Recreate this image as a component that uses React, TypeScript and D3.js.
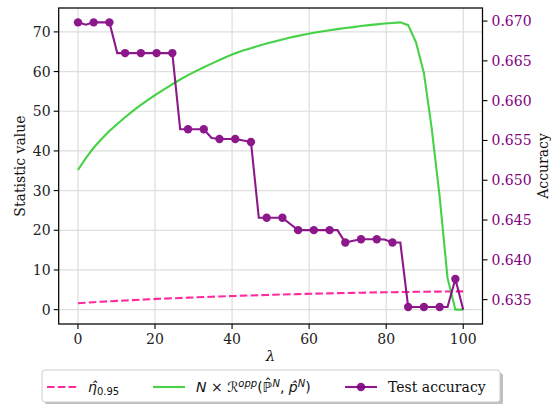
import React, { useRef, useEffect } from 'react';
import * as d3 from 'd3';

// lambda grid (50 points from 0 to 100)
const lambdas = [0, 2.04, 4.08, 6.12, 8.16, 10.2, 12.24, 14.29, 16.33, 18.37, 20.41, 22.45, 24.49, 26.53, 28.57, 30.61, 32.65, 34.69, 36.73, 38.78, 40.82, 42.86, 44.9, 46.94, 48.98, 51.02, 53.06, 55.1, 57.14, 59.18, 61.22, 63.27, 65.31, 67.35, 69.39, 71.43, 73.47, 75.51, 77.55, 79.59, 81.63, 83.67, 85.71, 87.76, 89.8, 91.84, 93.88, 95.92, 97.96, 100];

const etaHat = [1.6, 1.75, 1.88, 2.0, 2.1, 2.2, 2.3, 2.4, 2.5, 2.6, 2.7, 2.78, 2.86, 2.94, 3.02, 3.1, 3.17, 3.24, 3.31, 3.38, 3.45, 3.52, 3.58, 3.64, 3.7, 3.76, 3.82, 3.87, 3.92, 3.97, 4.02, 4.07, 4.11, 4.15, 4.19, 4.23, 4.27, 4.31, 4.34, 4.37, 4.4, 4.43, 4.46, 4.49, 4.51, 4.53, 4.55, 4.57, 4.59, 4.61];

const riskOpp = [35.2, 38.2, 40.8, 43.0, 45.0, 46.8, 48.5, 50.1, 51.6, 53.0, 54.3, 55.6, 56.8, 58.0, 59.1, 60.1, 61.1, 62.0, 62.9, 63.8, 64.6, 65.3, 65.9, 66.5, 67.1, 67.6, 68.1, 68.6, 69.0, 69.4, 69.8, 70.1, 70.4, 70.7, 71.0, 71.2, 71.5, 71.7, 71.9, 72.1, 72.25, 72.4, 71.7, 67.3, 59.6, 45.5, 28.5, 8.0, 0.0, 0.0];

const testAcc = [0.66984, 0.66955, 0.66984, 0.66984, 0.66984, 0.66598, 0.66598, 0.66598, 0.66598, 0.66598, 0.66598, 0.66598, 0.66598, 0.65641, 0.65641, 0.65641, 0.65641, 0.6553, 0.65519, 0.65519, 0.65519, 0.655, 0.65481, 0.64528, 0.64528, 0.64528, 0.64528, 0.6445, 0.64373, 0.64373, 0.64373, 0.64373, 0.64373, 0.64373, 0.64218, 0.6424, 0.64259, 0.64259, 0.64259, 0.64255, 0.64218, 0.64218, 0.63407, 0.63407, 0.63407, 0.63407, 0.63407, 0.63407, 0.63759, 0.63374];

const xTicks = [0, 20, 40, 60, 80, 100];
const leftTicks = [0, 10, 20, 30, 40, 50, 60, 70];
const rightTicks = [0.635, 0.64, 0.645, 0.65, 0.655, 0.66, 0.665, 0.67];

const W = 551, H = 404;
const box = { l: 58.7, r: 482.5, t: 8, b: 324 };
const serif = 'DejaVu Serif, serif';
const sans = 'DejaVu Sans, sans-serif';
const PINK = '#ff1493', GREEN = '#32cd32', PURPLE = '#800080';

function pad(ext) {
    const d = (ext[1] - ext[0]) * 0.05;
    return [ext[0] - d, ext[1] + d];
}

export default function App() {
    const svgRef = useRef(null);
    useEffect(() => draw(svgRef.current), []);
    return (
        <svg ref={svgRef} width={W} height={H}
            style={{ position: 'absolute', left: 0, top: 0, background: '#fff' }} />
    );
}

function draw(node) {
    const svg = d3.select(node);
    svg.selectAll('*').remove();

    const x = d3.scaleLinear().domain(pad([0, 100])).range([box.l, box.r]);
    const yL = d3.scaleLinear()
        .domain(pad(d3.extent(etaHat.concat(riskOpp))))
        .range([box.b, box.t]);
    const yR = d3.scaleLinear()
        .domain(pad(d3.extent(testAcc)))
        .range([box.b, box.t]);

    // grid
    const grid = svg.append('g');
    grid.selectAll('.vg').data(xTicks).join('line')
        .attr('x1', d => x(d)).attr('x2', d => x(d))
        .attr('y1', box.t).attr('y2', box.b)
        .attr('stroke', '#d6d6d6').attr('stroke-width', 1);
    grid.selectAll('.hg').data(leftTicks).join('line')
        .attr('x1', box.l).attr('x2', box.r)
        .attr('y1', d => yL(d)).attr('y2', d => yL(d))
        .attr('stroke', '#dedede').attr('stroke-width', 1.2);

    const plot = svg.append('g');
    const lineL = d3.line().x((d, i) => x(lambdas[i])).y(d => yL(d));
    plot.append('path').attr('d', lineL(etaHat))
        .attr('fill', 'none').attr('stroke', PINK).attr('stroke-width', 2.1)
        .attr('stroke-dasharray', '7.6,3.2').attr('opacity', 0.9);
    plot.append('path').attr('d', lineL(riskOpp))
        .attr('fill', 'none').attr('stroke', GREEN).attr('stroke-width', 2.1)
        .attr('opacity', 0.9);

    const lineR = d3.line().x((d, i) => x(lambdas[i])).y(d => yR(d));
    const acc = plot.append('g').attr('opacity', 0.9);
    acc.append('path').attr('d', lineR(testAcc))
        .attr('fill', 'none').attr('stroke', PURPLE).attr('stroke-width', 2.1);
    acc.selectAll('circle')
        .data(testAcc.map((v, i) => ({ v, i })).filter(d => d.i % 2 === 0))
        .join('circle')
        .attr('cx', d => x(lambdas[d.i])).attr('cy', d => yR(d.v))
        .attr('r', 4.2).attr('fill', PURPLE);

    // spines
    svg.append('rect')
        .attr('x', box.l).attr('y', box.t)
        .attr('width', box.r - box.l).attr('height', box.b - box.t)
        .attr('fill', 'none').attr('stroke', '#000').attr('stroke-width', 1.25);

    // x axis
    const xa = svg.append('g');
    xa.selectAll('line').data(xTicks).join('line')
        .attr('x1', d => x(d)).attr('x2', d => x(d))
        .attr('y1', box.b).attr('y2', box.b + 5)
        .attr('stroke', '#000').attr('stroke-width', 1.1);
    xa.selectAll('text').data(xTicks).join('text')
        .attr('x', d => x(d)).attr('y', box.b + 20)
        .attr('text-anchor', 'middle')
        .attr('font-family', serif).attr('font-size', 14).attr('fill', '#222')
        .text(d => d);

    // left axis
    const la = svg.append('g');
    la.selectAll('line').data(leftTicks).join('line')
        .attr('x1', box.l - 5).attr('x2', box.l)
        .attr('y1', d => yL(d)).attr('y2', d => yL(d))
        .attr('stroke', '#000').attr('stroke-width', 1.1);
    la.selectAll('text').data(leftTicks).join('text')
        .attr('x', box.l - 8).attr('y', d => yL(d)).attr('dy', '0.36em')
        .attr('text-anchor', 'end')
        .attr('font-family', serif).attr('font-size', 14).attr('fill', '#222')
        .text(d => d);

    // right axis
    const ra = svg.append('g');
    ra.selectAll('line').data(rightTicks).join('line')
        .attr('x1', box.r).attr('x2', box.r + 5)
        .attr('y1', d => yR(d)).attr('y2', d => yR(d))
        .attr('stroke', '#000').attr('stroke-width', 1.1);
    ra.selectAll('text').data(rightTicks).join('text')
        .attr('x', box.r + 9).attr('y', d => yR(d)).attr('dy', '0.36em')
        .attr('text-anchor', 'start')
        .attr('font-family', serif).attr('font-size', 14).attr('fill', PURPLE)
        .text(d => d3.format('.3f')(d));

    // axis labels
    svg.append('text')
        .attr('transform', `translate(25,${(box.t + box.b) / 2}) rotate(-90)`)
        .attr('text-anchor', 'middle')
        .attr('font-family', serif).attr('font-size', 14).attr('fill', '#111')
        .text('Statistic value');
    svg.append('text')
        .attr('transform', `translate(547.5,${(box.t + box.b) / 2}) rotate(-90)`)
        .attr('text-anchor', 'middle')
        .attr('font-family', serif).attr('font-size', 14).attr('fill', '#111')
        .text('Accuracy');
    svg.append('text')
        .attr('x', (box.l + box.r) / 2).attr('y', 361)
        .attr('text-anchor', 'middle')
        .attr('font-family', serif).attr('font-style', 'italic')
        .attr('font-size', 15).attr('fill', '#111')
        .text('λ');

    // legend
    const lg = svg.append('g');
    const lx = 42, ly = 370, lw = 458, lh = 32;
    lg.append('rect').attr('x', lx + 3).attr('y', ly + 3)
        .attr('width', lw).attr('height', lh).attr('rx', 3)
        .attr('fill', '#808080').attr('opacity', 0.5);
    lg.append('rect').attr('x', lx).attr('y', ly)
        .attr('width', lw).attr('height', lh).attr('rx', 3)
        .attr('fill', '#fff').attr('stroke', '#cccccc').attr('stroke-width', 1);
    const cy = 387;
    lg.append('line').attr('x1', 47).attr('x2', 79).attr('y1', cy).attr('y2', cy)
        .attr('stroke', PINK).attr('stroke-width', 2.1).attr('stroke-dasharray', '7.6,3.2')
        .attr('opacity', 0.9);
    lg.append('line').attr('x1', 153).attr('x2', 185).attr('y1', cy).attr('y2', cy)
        .attr('stroke', GREEN).attr('stroke-width', 2.1).attr('opacity', 0.9);
    lg.append('line').attr('x1', 345).attr('x2', 377).attr('y1', cy).attr('y2', cy)
        .attr('stroke', PURPLE).attr('stroke-width', 2.1).attr('opacity', 0.9);
    lg.append('circle').attr('cx', 361).attr('cy', cy).attr('r', 4.2)
        .attr('fill', PURPLE).attr('opacity', 0.9);

    const t1 = lg.append('text').attr('x', 88).attr('y', 392)
        .attr('font-family', sans).attr('font-size', 14).attr('fill', '#111');
    t1.append('tspan').attr('font-style', 'italic').text('η\u0302');
    t1.append('tspan').attr('font-size', 10).attr('dy', 3).text('0.95');

    const t2 = lg.append('text').attr('x', 196).attr('y', 392)
        .attr('font-family', sans).attr('font-size', 14).attr('fill', '#111');
    t2.append('tspan').attr('font-style', 'italic').text('N');
    t2.append('tspan').text(' × ');
    t2.append('tspan').text('ℛ');
    t2.append('tspan').attr('font-style', 'italic').attr('font-size', 10).attr('dy', -5).text('opp');
    t2.append('tspan').attr('dy', 5).text('(ℙ\u0302');
    t2.append('tspan').attr('font-style', 'italic').attr('font-size', 10).attr('dy', -5).text('N');
    t2.append('tspan').attr('dy', 5).text(', ');
    t2.append('tspan').attr('font-style', 'italic').text('p\u0302');
    t2.append('tspan').attr('font-style', 'italic').attr('font-size', 10).attr('dy', -5).text('N');
    t2.append('tspan').attr('dy', 5).text(')');

    lg.append('text').attr('x', 388).attr('y', 392)
        .attr('font-family', serif).attr('font-size', 14).attr('fill', '#111')
        .text('Test accuracy');
}
